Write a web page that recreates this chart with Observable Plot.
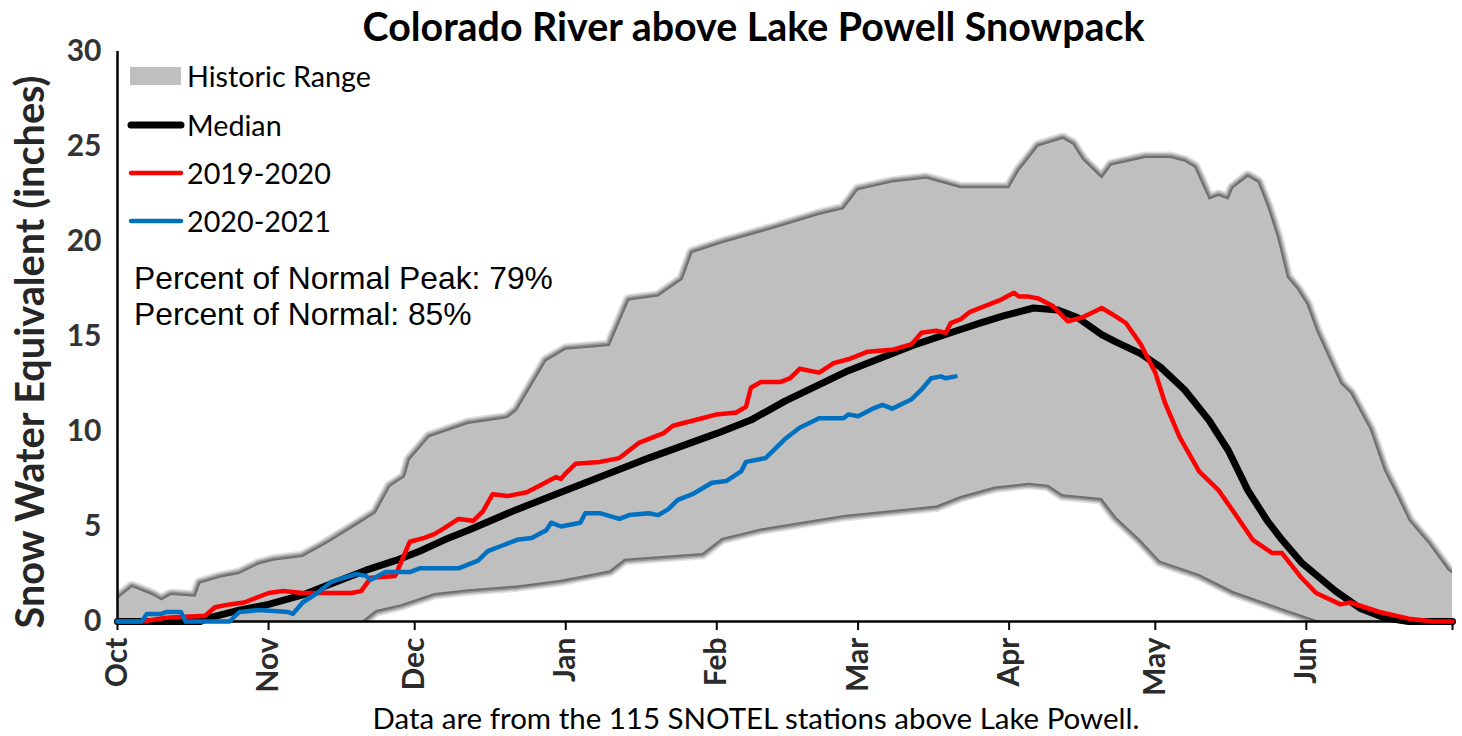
<!DOCTYPE html>
<html><head><meta charset="utf-8">
<script src="https://cdn.jsdelivr.net/npm/d3@7"></script>
<script src="https://cdn.jsdelivr.net/npm/@observablehq/plot@0.6"></script>
<style>
html,body{margin:0;padding:0;background:#fff;}
body{width:1462px;height:736px;overflow:hidden;font-family:Lato,sans-serif;}
#title{box-sizing:border-box;height:46px;padding-top:2px;padding-left:45px;text-align:center;font-weight:bold;line-height:1.2;color:#000;white-space:nowrap;}
#chart{height:660px;}
#caption{box-sizing:border-box;height:30px;padding-left:50px;text-align:center;line-height:24px;color:#000;white-space:nowrap;}
</style></head><body>
<div id="title">Colorado River above Lake Powell Snowpack</div>
<div id="chart"></div>
<div id="caption">Data are from the 115 SNOTEL stations above Lake Powell.</div>
<script>
// ---------- data (day 0 = Oct 1, water year) ----------
const monthLabels = ["Oct","Nov","Dec","Jan","Feb","Mar","Apr","May","Jun"];
const monthStartDays = [0,31,61,92,123,152,183,213,244];
const axisEndDay = 274;
const yTicks = [0,5,10,15,20,25,30];

const historicMax = [[0,1.2],[3,1.8],[7,1.4],[9,1.1],[11,1.4],[16,1.3],[17,2.0],[21,2.3],[25,2.5],[29,3.0],[32,3.2],[38,3.4],[43,4.1],[48,4.9],[53,5.7],[56,7.1],[59,7.6],[60,8.5],[64,9.7],[72,10.4],[80,10.7],[82,11.1],[88,13.7],[92,14.3],[101,14.5],[105,16.9],[111,17.1],[116,18.0],[118,19.4],[124,19.9],[135,20.7],[144,21.4],[149,21.7],[152,22.7],[159,23.1],[166,23.3],[173,22.8],[183,22.8],[185,23.7],[189,25.0],[194,25.4],[196,25.1],[198,24.3],[202,23.3],[204,24.0],[211,24.4],[216,24.4],[219,24.2],[221,23.9],[224,22.2],[226,22.4],[228,22.2],[229,22.8],[232,23.4],[234,23.1],[236,21.8],[238,20.2],[240,18.1],[242,17.5],[244,16.7],[246,15.3],[249,13.6],[251,12.5],[253,12.0],[257,10.1],[260,7.9],[262,6.9],[265,5.3],[269,4.1],[273,2.7],[274,2.5]];
const historicMin = [[0,0],[50,0],[53,0.6],[58,0.9],[65,1.5],[72,1.7],[82,1.9],[91,2.2],[101,2.7],[104,3.3],[120,3.6],[124,4.4],[132,4.9],[149,5.6],[168,6.1],[173,6.6],[180,7.1],[187,7.3],[191,7.2],[194,6.7],[202,6.5],[205,5.5],[210,4.3],[214,3.2],[222,2.5],[229,1.6],[239,0.7],[247,0],[274,0]];
const median = [[0,0],[17,0],[19,0.2],[25,0.6],[31,0.9],[38,1.4],[44,2.0],[51,2.7],[57,3.2],[62,3.7],[68,4.4],[72,4.8],[82,5.9],[96,7.3],[109,8.6],[123,9.9],[130,10.6],[137,11.6],[150,13.2],[164,14.6],[171,15.2],[177,15.7],[182,16.1],[188,16.5],[193,16.4],[197,16.0],[202,15.1],[205,14.7],[210,14.1],[214,13.4],[219,12.2],[224,10.6],[228,9.0],[232,6.9],[236,5.3],[239,4.3],[243,3.1],[250,1.6],[255,0.7],[260,0.2],[265,0],[274,0]];
const wy2020 = [[0,0],[5,0],[10,0.2],[18,0.3],[20,0.75],[23,0.9],[26,1.0],[31,1.5],[34,1.6],[38,1.5],[48,1.5],[50,1.6],[52,2.3],[57,2.4],[58,3.0],[60,4.2],[63,4.4],[65,4.6],[67,4.9],[70,5.4],[73,5.3],[75,5.8],[77,6.7],[80,6.6],[84,6.8],[87,7.2],[90,7.6],[91,7.5],[92,7.8],[94,8.3],[99,8.4],[103,8.6],[107,9.4],[110,9.7],[112,9.9],[114,10.3],[120,10.7],[123,10.9],[127,11.0],[129,11.3],[130,12.3],[132,12.6],[136,12.6],[138,12.8],[140,13.3],[144,13.1],[147,13.6],[150,13.8],[154,14.2],[159,14.3],[163,14.6],[165,15.2],[168,15.3],[170,15.2],[171,15.7],[173,15.9],[175,16.3],[178,16.6],[181,16.9],[184,17.3],[185,17.1],[187,17.1],[189,17.0],[192,16.6],[195,15.8],[198,16.0],[202,16.5],[204,16.2],[207,15.7],[210,14.6],[213,13.1],[215,11.5],[218,9.7],[222,7.9],[226,6.9],[229,5.8],[233,4.3],[237,3.6],[239,3.6],[243,2.3],[246,1.5],[251,0.9],[253,1.0],[259,0.5],[265,0.15],[270,0],[274,0]];
const wy2021 = [[0,0],[5,0],[6,0.4],[9,0.4],[10,0.5],[13,0.5],[14,0],[23,0],[25,0.5],[29,0.6],[35,0.5],[36,0.4],[38,1.0],[41,1.5],[44,2.1],[49,2.5],[51,2.4],[52,2.2],[55,2.6],[60,2.6],[62,2.8],[70,2.8],[74,3.2],[76,3.7],[79,4.0],[82,4.3],[85,4.4],[88,4.8],[89,5.2],[91,5.0],[95,5.2],[96,5.7],[99,5.7],[103,5.4],[105,5.6],[109,5.7],[111,5.6],[113,5.9],[115,6.4],[118,6.7],[122,7.3],[125,7.4],[128,7.9],[129,8.4],[133,8.6],[135,9.1],[137,9.6],[140,10.2],[144,10.7],[149,10.7],[150,10.9],[152,10.8],[155,11.2],[157,11.4],[159,11.2],[163,11.7],[165,12.2],[167,12.8],[169,12.9],[170,12.8],[172,12.9]];

const legendItems = ["Historic Range","Median","2019-2020","2020-2021"];
const notes = ["Percent of Normal Peak: 79%","Percent of Normal: 85%"];
const yLabel = "Snow Water Equivalent (inches)";

// ---------- layout helpers ----------
const ctx = document.createElement("canvas").getContext("2d");
function fit(text, weight, family, target) {
  ctx.font = `${weight} 100px ${family}`;
  return 100 * target / ctx.measureText(text).width;
}
const CAL = "Lato", ARIAL = "'Liberation Sans'";
const TOP = 46;

const titleEl = document.getElementById("title");
titleEl.style.fontSize = fit(titleEl.textContent, "bold", CAL, 783) + "px";
const capEl = document.getElementById("caption");
capEl.style.fontSize = fit(capEl.textContent, "normal", CAL, 768) + "px";

const rangePoly = historicMax.concat(historicMin.slice().reverse());
const xTicks = monthStartDays.concat([axisEndDay]);
const px = d => d[0], py = d => d[1];
const shadow = (w, c, o) => Plot.line(rangePoly, {x: px, y: py, fill: "none", stroke: c, strokeWidth: w, strokeOpacity: o, strokeLinejoin: "round", clip: true});

const plot = Plot.plot({
  width: 1462, height: 660,
  marginLeft: 117, marginRight: 10, marginTop: 5, marginBottom: 85,
  x: {domain: [0, axisEndDay]},
  y: {domain: [0, 30]},
  style: {fontFamily: CAL, background: "white", overflow: "visible"},
  marks: [
    shadow(13, "#a0a0a0", 0.3),
    shadow(10, "#8a8a8a", 0.4),
    shadow(7, "#707070", 0.55),
    shadow(4, "#606060", 0.7),
    Plot.line(rangePoly, {x: px, y: py, fill: "#bfbfbf", stroke: "none", clip: true}),
    Plot.axisY(yTicks, {tickSize: 0, tickPadding: 16, fontSize: 30, fontWeight: "bold", fill: "#333", label: null}),
    Plot.axisX(xTicks, {tickFormat: d => { const i = monthStartDays.indexOf(d); return i < 0 ? "" : monthLabels[i]; },
      tickRotate: -90, tickSize: 9, tickPadding: 7, fontSize: 30, fontWeight: "bold", fill: "#2b2b2b", stroke: "black", strokeWidth: 2, label: null}),
    Plot.ruleX([0], {y1: 0, y2: 30, stroke: "black", strokeWidth: 2.5}),
    Plot.ruleY([0], {x1: 0, x2: axisEndDay, stroke: "black", strokeWidth: 2.5}),
    Plot.line(median, {x: px, y: py, stroke: "#000", strokeWidth: 7, strokeLinejoin: "round", strokeLinecap: "round"}),
    Plot.line(wy2020, {x: px, y: py, stroke: "#ff0000", strokeWidth: 4.5, strokeLinejoin: "round", strokeLinecap: "round"}),
    Plot.line(wy2021, {x: px, y: py, stroke: "#0070c0", strokeWidth: 4.5, strokeLinejoin: "round", strokeLinecap: "round"})
  ]
});
document.getElementById("chart").appendChild(plot);

const svg = d3.select(plot);
svg.selectAll('g[aria-label="x-axis tick label"] text, g[aria-label="y-axis tick label"] text').attr("font-weight", "bold");

// legend and notes
const lg = svg.append("g").attr("text-anchor", "start");
const legFs = fit(legendItems[0], "normal", CAL, 184);
const legY = [76, 125, 173, 221].map(v => v - TOP);
lg.append("rect").attr("x", 130).attr("y", 67 - TOP).attr("width", 51).attr("height", 18).attr("fill", "#bfbfbf");
[["#000", 7], ["#ff0000", 4.5], ["#0070c0", 4.5]].forEach(([c, w], i) => {
  lg.append("line").attr("x1", 131).attr("x2", 181).attr("y1", legY[i + 1]).attr("y2", legY[i + 1])
    .attr("stroke", c).attr("stroke-width", w).attr("stroke-linecap", "round");
});
legendItems.forEach((t, i) => {
  lg.append("text").attr("x", 187).attr("y", legY[i]).attr("dominant-baseline", "central").attr("text-anchor", "start")
    .attr("font-family", CAL).attr("font-size", legFs).attr("fill", "#000").text(t);
});
const noteFs = fit(notes[0], "normal", ARIAL, 419);
[289, 325].forEach((b, i) => {
  lg.append("text").attr("x", 134).attr("y", b - TOP).attr("text-anchor", "start").attr("font-family", ARIAL)
    .attr("font-size", noteFs).attr("fill", "#000").text(notes[i]);
});
const ylFs = fit(yLabel, "bold", CAL, 555);
lg.append("text").attr("transform", `translate(28,${352 - TOP}) rotate(-90)`)
  .attr("text-anchor", "middle").attr("dominant-baseline", "central")
  .attr("font-family", CAL).attr("font-weight", "bold").attr("font-size", ylFs).attr("fill", "#262626").text(yLabel);
</script>
</body></html>
